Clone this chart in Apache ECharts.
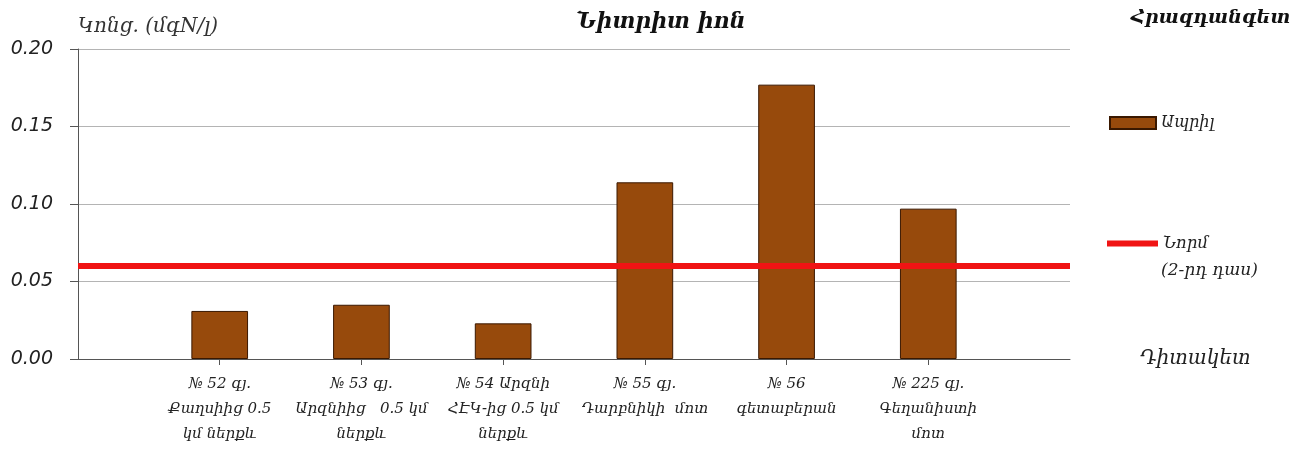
<!DOCTYPE html>
<html>
<head>
<meta charset="utf-8">
<script src="https://cdn.jsdelivr.net/npm/echarts@6/dist/echarts.min.js"></script>
<style>
  html, body { margin: 0; padding: 0; background: #fff; }
  #chart { width: 1305px; height: 453px; }
</style>
</head>
<body>
<div id="chart"></div>
<script>
// Observation points along the river (empty slots pad both ends of the axis)
const stations = [
  '',
  '№ 52 գյ.\nՔաղսիից 0.5\nկմ ներքև',
  '№ 53 գյ.\nԱրզնիից   0.5 կմ\nներքև',
  '№ 54 Արզնի\nՀԷԿ-ից 0.5 կմ\nներքև',
  '№ 55 գյ.\nԴարբնիկի  մոտ',
  '№ 56\nգետաբերան',
  '№ 225 գյ.\nԳեղանիստի\nմոտ',
  ''
];
// Nitrite ion concentration, mgN/l, April
const aprilValues = [null, 0.031, 0.035, 0.023, 0.114, 0.177, 0.097, null];
// Class 2 norm
const normLevel = [0.06, 0.06, 0.06, 0.06, 0.06, 0.06, 0.06, 0.06];
const yTicks = { min: 0, max: 0.2, interval: 0.05 };

const ARM = '"DejaVu Serif", "DejaVu Sans", serif';
const NUM = '"DejaVu Sans", "Liberation Sans", sans-serif';
const TXT = '#222';

const chart = echarts.init(document.getElementById('chart'), null, { renderer: 'canvas' });
chart.setOption({
  animation: false,
  backgroundColor: '#fff',
  title: [
    { text: 'Նիտրիտ իոն', left: 656, top: 6, textAlign: 'center',
      textStyle: { fontFamily: ARM, fontStyle: 'italic', fontWeight: 'bold', fontSize: 22, color: '#111' } },
    { text: 'Հրազդանգետ', left: 1126, top: 4,
      textStyle: { fontFamily: ARM, fontStyle: 'italic', fontWeight: 'bold', fontSize: 19, color: '#111' } },
    { text: '(2-րդ դաս)', left: 1156, top: 257,
      textStyle: { fontFamily: ARM, fontStyle: 'italic', fontWeight: 'normal', fontSize: 17, color: TXT } }
  ],
  legend: [
    { data: [{ name: 'Ապրիլ', icon: 'rect' }], orient: 'vertical', left: 1104, top: 110,
      itemWidth: 46, itemHeight: 12, itemGap: 0,
      textStyle: { fontFamily: ARM, fontStyle: 'italic', fontSize: 16, color: TXT } },
    { data: [{ name: 'Նորմ', icon: 'rect', itemStyle: { color: '#f01414', borderWidth: 0 } }],
      orient: 'vertical', left: 1102, top: 230,
      itemWidth: 51, itemHeight: 6, itemGap: 0,
      textStyle: { fontFamily: ARM, fontStyle: 'italic', fontSize: 16.5, color: TXT } }
  ],
  grid: { left: 78, right: 235, top: 49, bottom: 94, containLabel: false },
  xAxis: {
    type: 'category',
    data: stations,
    boundaryGap: false,
    name: 'Դիտակետ',
    nameLocation: 'end',
    nameGap: 70,
    nameTextStyle: { fontFamily: ARM, fontStyle: 'italic', fontSize: 20, color: TXT, verticalAlign: 'middle' },
    axisLine: { lineStyle: { color: '#555', width: 1 } },
    axisTick: { show: true, length: 6, lineStyle: { color: '#555' },
      interval: (i) => i > 0 && i < stations.length - 1 },
    axisLabel: { interval: 0, margin: 13, fontFamily: ARM, fontStyle: 'italic', fontSize: 15,
      lineHeight: 25, color: TXT, align: 'center' },
    splitLine: { show: false }
  },
  yAxis: {
    type: 'value',
    min: yTicks.min, max: yTicks.max, interval: yTicks.interval,
    name: 'Կոնց. (մգN/լ)',
    nameLocation: 'end',
    nameGap: 12,
    nameTextStyle: { fontFamily: ARM, fontStyle: 'italic', fontSize: 20, color: '#333', align: 'left' },
    axisLine: { show: true, lineStyle: { color: '#555', width: 1 } },
    axisTick: { show: true, inside: false, length: 8, lineStyle: { color: '#555' } },
    axisLabel: { margin: 25, fontFamily: NUM, fontStyle: 'oblique', fontSize: 19, color: TXT,
      formatter: (v) => v.toFixed(2) },
    splitLine: { show: true, lineStyle: { color: '#b4b4b4', width: 1 } }
  },
  series: [
    {
      name: 'Ապրիլ',
      type: 'bar',
      data: aprilValues,
      barWidth: '40%',
      itemStyle: { color: '#974A0C', borderColor: '#3a1800', borderWidth: 1 },
      z: 2
    },
    {
      name: 'Նորմ',
      type: 'line',
      data: normLevel,
      symbol: 'none',
      lineStyle: { color: '#f01414', width: 6 },
      itemStyle: { color: '#f01414' },
      z: 3
    }
  ]
});
</script>
</body>
</html>
